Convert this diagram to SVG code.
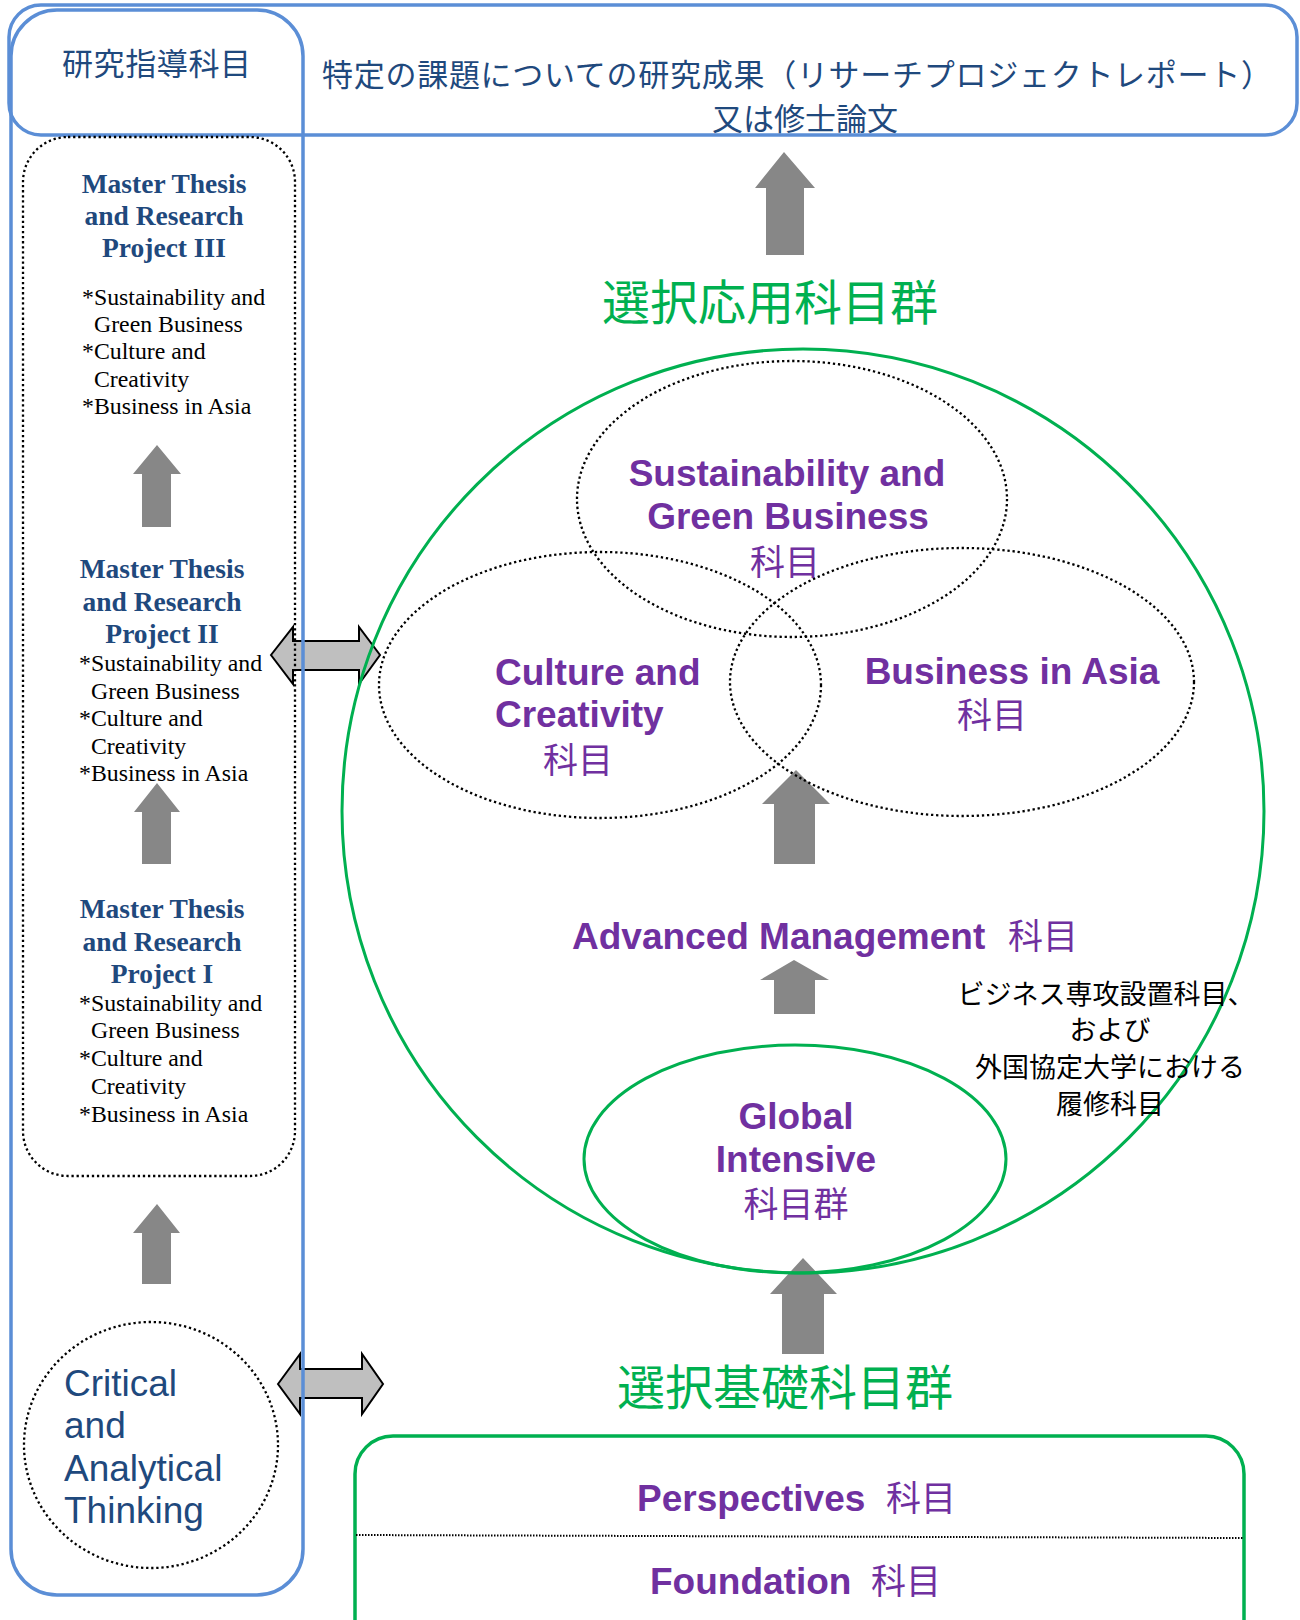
<svg xmlns="http://www.w3.org/2000/svg" width="1300" height="1620" viewBox="0 0 1300 1620">
<style>
.blue{fill:none;stroke:#5B8ED6;stroke-width:3.5}
.green{fill:none;stroke:#00B050;stroke-width:3}
.dot{fill:none;stroke:#000;stroke-width:2.3;stroke-dasharray:2.3 2.8}
.up{fill:#878787;stroke:none}
.dbl{fill:#BFBFBF;stroke:#000;stroke-width:2;stroke-linejoin:miter}
.jpblue{font-family:"Noto Sans CJK JP",sans-serif;fill:#1F497D}
.mt{font-family:"Liberation Serif","Times New Roman",serif;font-weight:bold;font-size:27.5px;fill:#1F497D;text-anchor:middle}
.bl{font-family:"Liberation Serif","Times New Roman",serif;font-size:23.8px;fill:#000}
.pur{font-family:"Liberation Sans",Arial,sans-serif;font-weight:bold;font-size:37px;fill:#7030A0}
.purjp{font-family:"Noto Sans CJK JP",sans-serif;font-size:35px;fill:#7030A0}
.gjp{font-family:"Noto Sans CJK JP",sans-serif;font-size:48px;fill:#00B050;text-anchor:middle}
.note{font-family:"Noto Sans CJK JP",sans-serif;font-size:27px;fill:#000;text-anchor:middle}
</style>

<g id="connectors">
  <polygon class="up" points="784,152 815,188 804,188 804,255 766,255 766,188 755,188"/>
  <polygon class="up" points="157,445 181,474 171,474 171,527 142,527 142,474 133,474"/>
  <polygon class="up" points="157,783 180,812 171,812 171,864 142,864 142,812 134,812"/>
  <polygon class="up" points="157,1204 180,1233 171,1233 171,1284 142,1284 142,1233 133,1233"/>
  <polygon class="up" points="796,770 830,804 815,804 815,864 774,864 774,804 762,804"/>
  <polygon class="up" points="794,960 829,980 815,980 815,1014 774,1014 774,980 760,980"/>
  <polygon class="up" points="803,1258 837,1294 824,1294 824,1354 782,1354 782,1294 770,1294"/>
  <polygon class="dbl" points="271,655 293,627 293,641 359,641 359,627 380,655 359,684 359,670 293,670 293,684"/>
  <polygon class="dbl" points="278,1384 300,1354 300,1369 362,1369 362,1354 383,1384 362,1414 362,1398 300,1398 300,1414"/>
</g>

<g id="research-box">
  <rect class="blue" x="11" y="10" width="292" height="1585" rx="46"/>
  <text class="jpblue" x="62" y="75" font-size="31" textLength="189" lengthAdjust="spacing">研究指導科目</text>
</g>

<g id="output-box">
  <rect class="blue" x="9" y="5" width="1288" height="130" rx="32"/>
  <text class="jpblue" x="322" y="86" font-size="31" textLength="950" lengthAdjust="spacing">特定の課題についての研究成果（リサーチプロジェクトレポート）</text>
  <text class="jpblue" x="805" y="130" font-size="31" text-anchor="middle">又は修士論文</text>
</g>

<g id="thesis-projects">
  <rect class="dot" x="23" y="137" width="272" height="1039" rx="45"/>
  <g id="project-3">
    <text class="mt" x="164" y="193">Master Thesis</text>
    <text class="mt" x="164" y="225">and Research</text>
    <text class="mt" x="164" y="257">Project III</text>
    <text class="bl" x="82" y="305">*Sustainability and</text>
    <text class="bl" x="94" y="332">Green Business</text>
    <text class="bl" x="82" y="359">*Culture and</text>
    <text class="bl" x="94" y="387">Creativity</text>
    <text class="bl" x="82" y="414">*Business in Asia</text>
  </g>
  <g id="project-2">
    <text class="mt" x="162" y="578">Master Thesis</text>
    <text class="mt" x="162" y="611">and Research</text>
    <text class="mt" x="162" y="643">Project II</text>
    <text class="bl" x="79" y="671">*Sustainability and</text>
    <text class="bl" x="91" y="699">Green Business</text>
    <text class="bl" x="79" y="726">*Culture and</text>
    <text class="bl" x="91" y="754">Creativity</text>
    <text class="bl" x="79" y="781">*Business in Asia</text>
  </g>
  <g id="project-1">
    <text class="mt" x="162" y="918">Master Thesis</text>
    <text class="mt" x="162" y="951">and Research</text>
    <text class="mt" x="162" y="983">Project I</text>
    <text class="bl" x="79" y="1011">*Sustainability and</text>
    <text class="bl" x="91" y="1038">Green Business</text>
    <text class="bl" x="79" y="1066">*Culture and</text>
    <text class="bl" x="91" y="1094">Creativity</text>
    <text class="bl" x="79" y="1122">*Business in Asia</text>
  </g>
</g>

<g id="critical-thinking">
  <ellipse class="dot" cx="151" cy="1445" rx="127" ry="123"/>
  <g font-family="Liberation Sans, Arial, sans-serif" font-size="37" fill="#1F497D">
    <text x="64" y="1396">Critical</text>
    <text x="64" y="1438">and</text>
    <text x="64" y="1481">Analytical</text>
    <text x="64" y="1523">Thinking</text>
  </g>
</g>

<g id="applied-group">
  <text class="gjp" x="770" y="320">選択応用科目群</text>
  <ellipse class="green" cx="803" cy="811" rx="461" ry="462"/>
</g>

<g id="sustainability">
  <ellipse class="dot" cx="792" cy="499" rx="215" ry="138"/>
  <text class="pur" x="787" y="486" text-anchor="middle">Sustainability and</text>
  <text class="pur" x="788" y="529" text-anchor="middle">Green Business</text>
  <text class="purjp" x="785" y="575" text-anchor="middle">科目</text>
</g>

<g id="culture">
  <ellipse class="dot" cx="600" cy="685" rx="221" ry="133"/>
  <text class="pur" x="495" y="685">Culture and</text>
  <text class="pur" x="495" y="727">Creativity</text>
  <text class="purjp" x="543" y="773">科目</text>
</g>

<g id="business-asia">
  <ellipse class="dot" cx="962" cy="682" rx="232" ry="134"/>
  <text class="pur" x="1012" y="684" text-anchor="middle">Business in Asia</text>
  <text class="purjp" x="992" y="728" text-anchor="middle">科目</text>
</g>

<g id="advanced-management">
  <text class="pur" x="572" y="949">Advanced Management</text>
  <text class="purjp" x="1008" y="949">科目</text>
</g>

<g id="note">
  <text class="note" x="1106" y="1004">ビジネス専攻設置科目、</text>
  <text class="note" x="1110" y="1040">および</text>
  <text class="note" x="1110" y="1077">外国協定大学における</text>
  <text class="note" x="1110" y="1114">履修科目</text>
</g>

<g id="global-intensive">
  <ellipse class="green" cx="795" cy="1159" rx="211" ry="114"/>
  <text class="pur" x="796" y="1129" text-anchor="middle">Global</text>
  <text class="pur" x="796" y="1172" text-anchor="middle">Intensive</text>
  <text class="purjp" x="796" y="1217" text-anchor="middle" font-size="36">科目群</text>
</g>

<g id="basic-group">
  <text class="gjp" x="785" y="1405">選択基礎科目群</text>
  <rect fill="none" stroke="#00B050" stroke-width="3.5" x="355" y="1436" width="889" height="240" rx="38"/>
  <line x1="356" y1="1535" x2="1243" y2="1538" stroke="#000" stroke-width="2" stroke-dasharray="1.5 1.5"/>
  <text class="pur" x="637" y="1511" font-size="35">Perspectives</text>
  <text class="purjp" x="886" y="1511">科目</text>
  <text class="pur" x="650" y="1594" font-size="35">Foundation</text>
  <text class="purjp" x="871" y="1594">科目</text>
</g>
</svg>
